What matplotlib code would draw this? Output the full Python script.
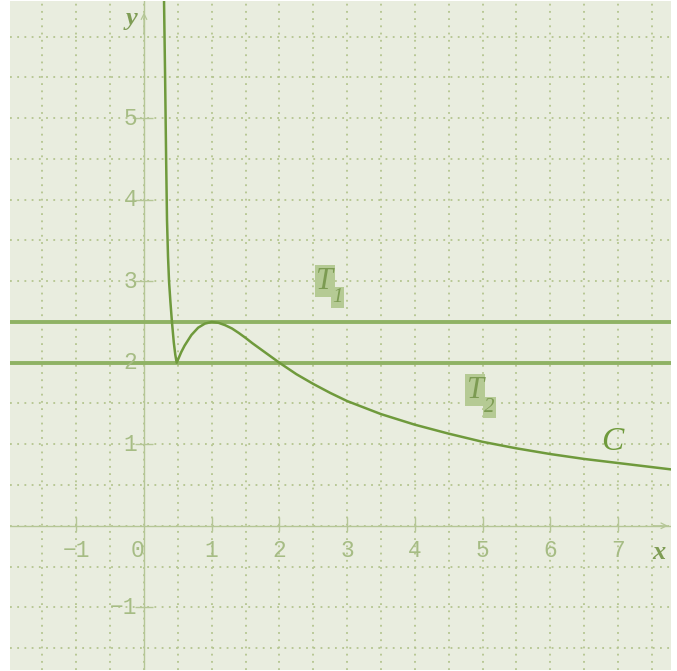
import numpy as np
import matplotlib
matplotlib.use("Agg")
import matplotlib.pyplot as plt

# curve C (left steep branch, then the hump and the tail)
curve_x = [0.295, 0.312, 0.327, 0.340, 0.355, 0.37, 0.39, 0.413, 0.44, 0.462, 0.483,
           0.55, 0.6, 0.7, 0.8, 0.9, 1.0, 1.1, 1.2, 1.3, 1.4, 1.5, 1.6, 1.7,
           1.8, 1.9, 2.0, 2.25, 2.5, 2.75, 3.0, 3.5, 4.0, 4.5, 5.0, 5.5, 6.0,
           6.5, 7.0, 7.5, 7.8]
curve_y = [6.5, 5.5, 4.5, 3.75, 3.3, 3.0, 2.75, 2.5, 2.25, 2.1, 2.0,
           2.13, 2.21, 2.34, 2.43, 2.48, 2.5, 2.49, 2.46, 2.42, 2.365, 2.305, 2.24, 2.18,
           2.12, 2.06, 2.0, 1.86, 1.74, 1.63, 1.53, 1.37, 1.24, 1.13, 1.03, 0.95, 0.88,
           0.82, 0.77, 0.72, 0.69]

# tangent lines
t1_y = 2.5
t2_y = 2.0

x_ticks = [-1, 1, 2, 3, 4, 5, 6, 7]
x_tick_labels = ["\u22121", "1", "2", "3", "4", "5", "6", "7"]
y_ticks = [-1, 1, 2, 3, 4, 5]
y_tick_labels = ["\u22121", "1", "2", "3", "4", "5"]

bg = "#e9eddf"
grid_col = "#b4c58f"
axis_col = "#b5c696"
label_col = "#a6bc84"
curve_col = "#6f9a3c"
tline_col = "#8fb264"

fig = plt.figure(figsize=(6.77, 6.71), dpi=100)
ax = fig.add_axes([10 / 677, 1 / 671, 661 / 677, 669 / 671])
ax.set_facecolor(bg)
ax.set_xlim(-1.979, 7.784)
ax.set_ylim(-1.769, 6.437)
for s in ax.spines.values():
    s.set_visible(False)

# dotted grid every 0.5
ax.set_xticks(np.arange(-1.5, 7.6, 0.5))
ax.set_yticks(np.arange(-1.5, 6.1, 0.5))
ax.tick_params(length=0, labelbottom=False, labelleft=False)
ax.grid(True, color=grid_col, linestyle=(0, (1, 3)), linewidth=1.3)
ax.set_axisbelow(True)

# axes with arrows
ax.axhline(0, color=axis_col, lw=1.0, zorder=1)
ax.axvline(0, color=axis_col, lw=1.0, zorder=1)
ax.annotate("", xy=(7.78, 0), xytext=(7.5, 0),
            arrowprops=dict(arrowstyle="->", color=axis_col, lw=0.9))
ax.annotate("", xy=(0, 6.33), xytext=(0, 6.0),
            arrowprops=dict(arrowstyle="->", color=axis_col, lw=0.9))

# small tick marks
ax.vlines(x_ticks, -0.06, 0.11, color=axis_col, lw=1.0, zorder=1)
ax.hlines(y_ticks, -0.13, 0.13, color=axis_col, lw=1.0, zorder=1)

tick_font = dict(family="Liberation Mono", fontsize=16.5, color=label_col)
for xv, lab in zip(x_ticks, x_tick_labels):
    ax.text(xv, -0.3, lab, ha="center", va="center", **tick_font)
ax.text(-0.1, -0.3, "0", ha="center", va="center", **tick_font)
for yv, lab in zip(y_ticks, y_tick_labels):
    ax.text(-0.1, yv, lab, ha="right", va="center", **tick_font)

ax.text(7.6, -0.33, "x", family="Liberation Serif", style="italic",
        weight="bold", fontsize=19, color="#7f9d55", ha="center", va="center")
ax.text(-0.18, 6.22, "y", family="Liberation Serif", style="italic",
        weight="bold", fontsize=19, color="#7f9d55", ha="center", va="center")

# tangent lines and the curve
ax.axhline(t1_y, color=tline_col, lw=2.8, zorder=2)
ax.axhline(t2_y, color=tline_col, lw=2.8, zorder=2)
ax.plot(curve_x, curve_y, color=curve_col, lw=1.8, zorder=3,
        solid_joinstyle="round")

# labels with highlight boxes
hl = dict(boxstyle="square,pad=0.05", facecolor="#b5ca94", edgecolor="none")
txt_col = "#7c9b52"
ax.text(2.67, 3.0, "T", family="Liberation Serif", style="italic",
        fontsize=22, color=txt_col, ha="center", va="center", bbox=hl)
ax.text(2.86, 2.8, "1", family="Liberation Serif", style="italic",
        fontsize=15, color=txt_col, ha="center", va="center", bbox=hl)
ax.text(4.89, 1.66, "T", family="Liberation Serif", style="italic",
        fontsize=22, color=txt_col, ha="center", va="center", bbox=hl)
ax.text(5.1, 1.45, "2", family="Liberation Serif", style="italic",
        fontsize=15, color=txt_col, ha="center", va="center", bbox=hl)

ax.text(6.92, 1.03, "C", family="Liberation Serif", style="italic",
        fontsize=24, color=curve_col, ha="center", va="center")

fig.savefig("out.png", dpi=100, facecolor="white")
